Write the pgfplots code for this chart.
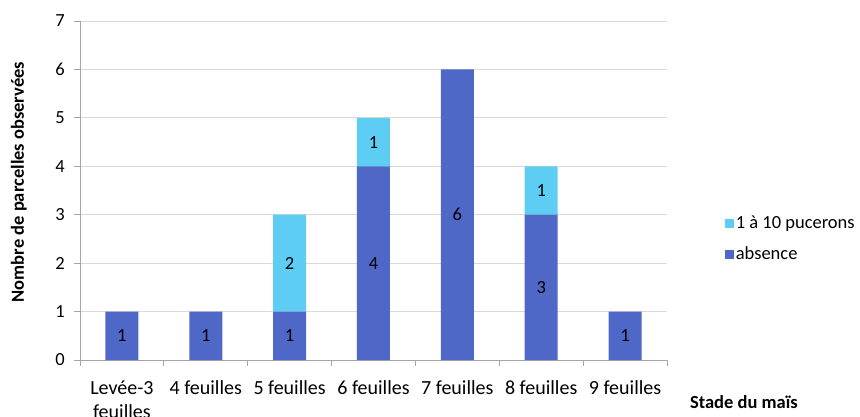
\documentclass[border=0pt]{standalone}
\usepackage{pgfplots}
\pgfplotsset{compat=1.18}
\usepackage{pgfplotstable}
\usepackage{fontspec}
\setmainfont{Carlito}

\definecolor{absc}{HTML}{4F68C8}
\definecolor{puc}{HTML}{5ECDF3}
\definecolor{axg}{HTML}{A6A6A6}
\definecolor{grd}{HTML}{D9D9D9}

\pgfplotstableread{
x a b
0 1 0
1 1 0
2 1 2
3 4 1
4 6 0
5 3 1
6 1 0
}\stades

\begin{document}
\fontsize{18.5}{22}\selectfont
\begin{tikzpicture}
\useasboundingbox (-80pt,-56pt) rectangle (780pt,360pt);
\begin{axis}[
    at={(0,0)}, anchor=south west,
    scale only axis,
    width=587pt, height=339pt,
    ybar stacked,
    bar width=33pt,
    xmin=-0.5, xmax=6.5,
    ymin=0, ymax=7,
    xtick={0,...,6},
    xticklabels={Levée-3\\feuilles,4 feuilles,5 feuilles,6 feuilles,7 feuilles,8 feuilles,9 feuilles},
    xticklabel style={align=center, font=\fontsize{20}{24.5}\selectfont, yshift=-8pt},
    xtick style={draw=none},
    extra x ticks={-0.5,0.5,...,6.5},
    extra x tick labels={},
    extra x tick style={xtick style={draw=axg, line width=0.8pt}, grid=none},
    ytick={0,...,7},
    ytick style={draw=axg, line width=0.8pt},
    yticklabel style={xshift=-3pt},
    tick align=outside,
    major tick length=6pt,
    /pgf/number format/assume math mode=true,
    ymajorgrids,
    grid style={draw=grd, line width=0.8pt},
    axis x line*=bottom,
    axis y line*=left,
    axis line style={draw=axg, line width=0.8pt, -},
    legend image code/.code={\fill[#1] (0pt,-4.5pt) rectangle (9pt,4.5pt);},
    reverse legend,
    legend style={at={(1.093,0.4366)}, anchor=north west, draw=none, fill=none,
        row sep=11pt, cells={anchor=west}},
    clip=false,
]
% labels come out centred in each segment
\addplot[fill=absc, draw=none,
    visualization depends on={\thisrow{a}\as\va},
    nodes near coords={\ifdim\va pt>0pt \pgfmathprintnumber[fixed,precision=0]{\va}\fi},
    every node near coord/.append style={anchor=center, text=black}]
    table[x=x, y=a] {\stades};
\addlegendentry{absence}
\addplot[fill=puc, draw=none,
    visualization depends on={\thisrow{b}\as\vb},
    nodes near coords={\ifdim\vb pt>0pt \pgfmathprintnumber[fixed,precision=0]{\vb}\fi},
    every node near coord/.append style={anchor=center, text=black}]
    table[x=x, y=b] {\stades};
\addlegendentry{1 à 10 pucerons}
\node[font=\bfseries\fontsize{18.5}{22}\selectfont, rotate=90] at (rel axis cs:-0.104,0.525) {Nombre de parcelles observées};
\node[font=\bfseries\fontsize{18.5}{22}\selectfont] at (rel axis cs:1.131,-0.124) {Stade du maïs};
\end{axis}
\end{tikzpicture}
\end{document}
